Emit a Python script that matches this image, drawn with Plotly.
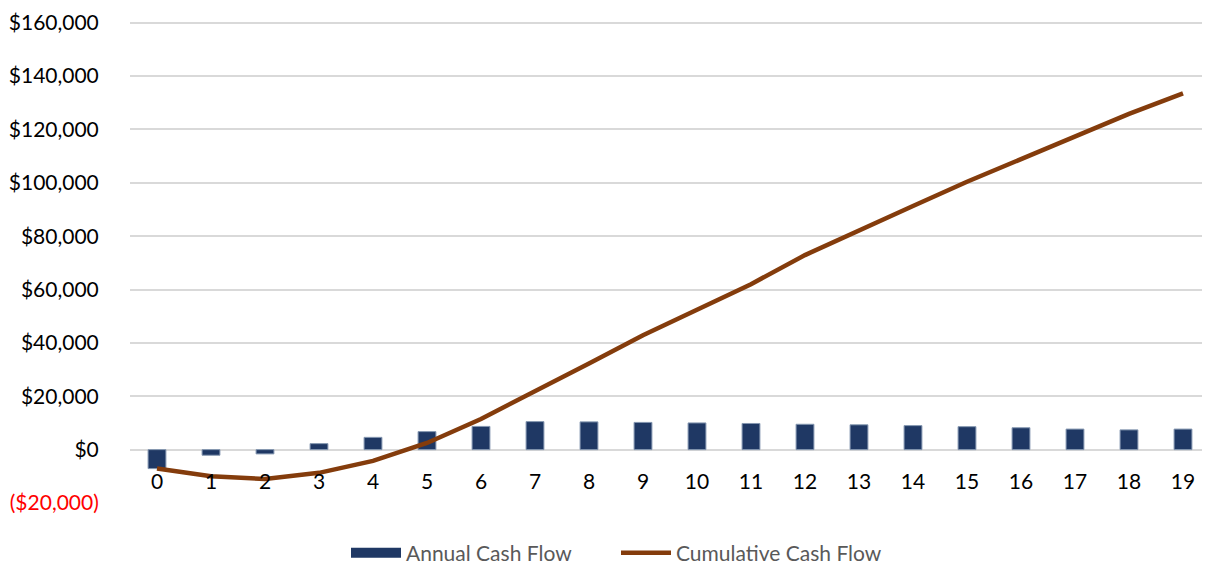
import plotly.graph_objects as go

# Years 0..19 of the project
years = [str(y) for y in range(20)]

# (USD)
annual_cash_flow = [-7100, -2100, -1600, 2250, 4600, 6750, 8700, 10500, 10400, 10200,
                    10000, 9800, 9500, 9300, 9000, 8600, 8200, 7700, 7400, 7700]
cumulative_cash_flow = [-7100, -10000, -11000, -8700, -4200, 2500, 11500, 21800, 32300, 42900,
                        52500, 62000, 72900, 81900, 91300, 100400, 109000, 117500, 125800, 133500]

y_tickvals = [-20000, 0, 20000, 40000, 60000, 80000, 100000, 120000, 140000, 160000]
y_ticktext = ['<span style="color:#ff0000">($20,000)</span>', "$0", "$20,000", "$40,000",
              "$60,000", "$80,000", "$100,000", "$120,000", "$140,000", "$160,000"]

NAVY = "#1f3864"
BROWN = "#843c0c"
FONT = "Lato, 'Liberation Sans', sans-serif"

fig = go.Figure()
fig.add_trace(go.Bar(
    x=years, y=annual_cash_flow, name="Annual Cash Flow", showlegend=False,
    width=0.33, marker=dict(color=NAVY, line=dict(color="#8497b0", width=1)),
))
# legend-only proxy so the bar swatch is a wide block like the original
fig.add_trace(go.Scatter(
    x=[None], y=[None], name="Annual Cash Flow", legend="legend",
    mode="lines", line=dict(color=NAVY, width=14),
))
fig.add_trace(go.Scatter(
    x=years, y=cumulative_cash_flow, name="Cumulative Cash Flow", legend="legend2",
    mode="lines", line=dict(color=BROWN, width=4.5),
))

y_min, y_max = -20000, 161000
fig.update_yaxes(
    range=[y_min, y_max], tickvals=y_tickvals, ticktext=y_ticktext,
    showgrid=True, gridcolor="#d9d9d9", gridwidth=1.5, zeroline=False,
    ticks="outside", ticklen=26, tickcolor="rgba(0,0,0,0)", automargin=False,
    tickfont=dict(size=21, color="#000000", family=FONT),
)
# category labels sit just under the $0 line, not at the bottom of the plot
fig.update_xaxes(
    type="category", range=[-0.5, 19.5], anchor="free",
    position=(0 - y_min) / (y_max - y_min), automargin=False,
    showgrid=False, showline=False, zeroline=False,
    ticks="outside", ticklen=13, tickcolor="rgba(0,0,0,0)",
    tickfont=dict(size=21, color="#000000", family=FONT),
)
legend_style = dict(
    orientation="h", xanchor="left", y=-0.1035, yanchor="middle",
    font=dict(size=21, color="#595959", family=FONT), itemwidth=50,
)
# page body keeps its default 8px margin, so the figure is sized to fit inside it
fig.update_layout(
    width=1202, height=559,
    margin=dict(l=122, r=0, t=12, b=64, autoexpand=False),
    plot_bgcolor="white", paper_bgcolor="white",
    font=dict(family=FONT),
    showlegend=True,
    legend=dict(x=0.2, **legend_style),
    legend2=dict(x=0.45, **legend_style),
    bargap=0.6,
)

fig.write_html("out.html")
